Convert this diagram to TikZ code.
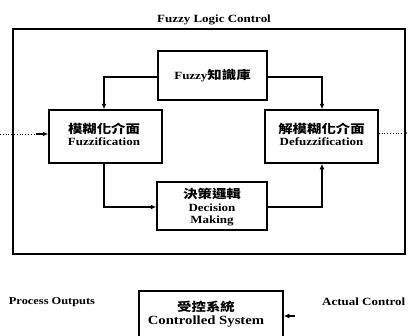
\documentclass[tikz,border=0pt]{standalone}
\usepackage{fontspec}
\newfontfamily\lat{Liberation Serif}[FakeStretch=1.18]
\newfontfamily\cjk{Noto Sans CJK TC}[FakeStretch=1.2]
\usetikzlibrary{arrows.meta}
\tikzset{
  blk/.style={draw, line width=1.5pt, rectangle, inner sep=0pt},
  txt/.style={align=center, font=\lat\bfseries\fontsize{11}{12.5}\selectfont, inner sep=0pt},
  conn/.style={line width=1.1pt, -{Latex[length=5.5pt,width=5pt]}},
  dots/.style={line width=0.8pt, dotted},
}
\newcommand{\zh}[1]{{\cjk\bfseries\fontsize{12}{12.5}\selectfont #1}}
\begin{document}
\begin{tikzpicture}[x=1pt,y=-1pt]
\useasboundingbox (0,0) rectangle (409,335);
\clip (0,0) rectangle (409,335);
% outer box and title
\node (flc) [draw, line width=2pt, minimum width=392pt, minimum height=225pt, inner sep=0pt] at (209,141.5) {};
\node (title) [txt] at (214,20) {Fuzzy Logic Control};
% blocks
\node (kb) [blk, minimum width=109pt, minimum height=49pt] at (212.5,75.5) {};
\node (kbl) [txt] at (212.5,76) {Fuzzy\zh{知識庫}};
\node (fz) [blk, minimum width=113pt, minimum height=53pt] at (105.5,136.5) {};
\node (fzl) [txt] at (104,134.5) {\zh{模糊化介面}\\Fuzzification};
\node (dfz) [blk, minimum width=113pt, minimum height=53pt] at (321.5,136.5) {};
\node (dfzl) [txt] at (321.5,134.5) {\zh{解模糊化介面}\\Defuzzification};
\node (dm) [blk, minimum width=110pt, minimum height=48pt] at (212,206) {};
\node (dml) [txt] at (212,207.5) {\zh{決策邏輯}\\Decision\\Making};
\node (cs) [blk, minimum width=144pt, minimum height=58pt] at (211,320) {};
\node (csl) [txt, font=\lat\bfseries\fontsize{12.5}{13}\selectfont] at (206,314.5) {\zh{受控系統}\\Controlled System};
% outside labels
\node (po) [txt, font=\lat\bfseries\fontsize{10.5}{12.5}\selectfont] at (52,302) {Process Outputs};
\node (acl) [txt, anchor=west] at (322,302) {Actual Control};
% connectors
\draw[conn] (kb.west |- 0,77) -| (fz.north -| 104,0);
\draw[conn] (kb.east |- 0,77) -| (dfz.north -| 322,0);
\draw[conn] (fz.south -| 104,0) |- (dm.west |- 0,207);
\draw[conn] (dm.east |- 0,207) -| (dfz.south -| 322,0);
% inputs/outputs
\coordinate (in0) at (0,134);
\coordinate (in1) at (36,134);
\draw[dots] (in0) -- (in1);
\draw[conn] (in1) -- (fz.west |- in1);
\coordinate (out1) at (408,133);
\draw[dots, -{Latex[length=4pt,width=3.5pt]}] (dfz.east |- out1) -- (out1);
\coordinate (ac) at (295,316);
\draw[conn] (ac) -- (cs.east |- ac);
\end{tikzpicture}
\end{document}
